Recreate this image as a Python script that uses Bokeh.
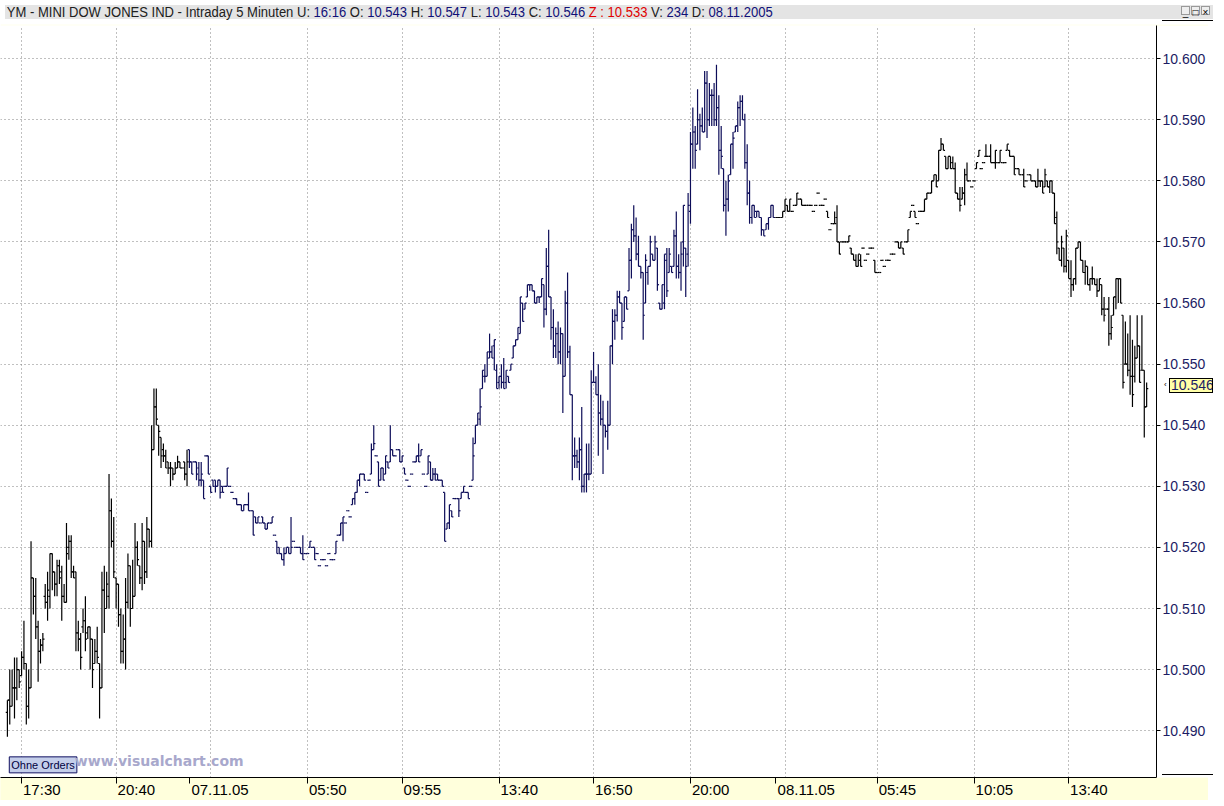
from bokeh.plotting import figure
from bokeh.models import ColumnDataSource, FixedTicker, Label, Div
from bokeh.layouts import column
from bokeh.embed import file_html
from bokeh.resources import INLINE

# ---- data: (open, high, low, close) per 5-minute bar ----
day1_bars = [
(10493,10495,10489,10495),(10495,10500,10491,10494),(10494,10500,10494,10497),(10497,10502,10492,10497),
(10497,10502,10495,10500),(10500,10500,10497,10498),(10499,10503,10499,10502),(10502,10508,10500,10501),
(10501,10501,10491,10494),(10494,10500,10492,10497),(10497,10521,10497,10515),(10515,10515,10509,10512),
(10512,10515,10505,10507),(10507,10508,10498,10503),(10503,10505,10501,10504),(10504,10506,10503,10505),
(10512,10514,10510,10511),(10511,10516,10508,10513),(10512,10519,10510,10519),(10519,10519,10513,10516),
(10516,10516,10512,10514),(10514,10518,10512,10517),(10517,10518,10514,10515),(10516,10517,10508,10512),
(10512,10514,10511,10511),(10511,10524,10511,10519),(10520,10522,10518,10521),(10521,10522,10515,10516),
(10516,10517,10515,10515),(10516,10516,10503,10506),(10506,10508,10503,10505),(10505,10506,10500,10502),
(10507,10510,10506,10508),(10508,10512,10503,10505),(10506,10507,10505,10507),(10507,10507,10500,10505),
(10505,10505,10497,10500),(10501,10505,10501,10503),(10503,10507,10501,10502),(10501,10501,10492,10497),
(10497,10516,10497,10513),(10513,10517,10506,10510),(10510,10516,10510,10514),(10512,10532,10510,10526),
(10526,10528,10520,10521),(10521,10525,10515,10516),(10515,10515,10510,10514),(10514,10514,10507,10509),
(10509,10510,10501,10503),(10503,10509,10501,10505),(10505,10515,10500,10511),(10511,10519,10510,10517),
(10517,10517,10507,10510),(10510,10518,10510,10512),(10512,10524,10512,10520),(10520,10521,10517,10518),
(10517,10517,10514,10515),(10515,10524,10513,10521),(10521,10521,10514,10516),(10516,10525,10515,10523),
(10523,10523,10520,10521),(10521,10540,10520,10536),(10536,10546,10536,10543),(10543,10546,10540,10541),
(10540,10540,10535,10539),(10538,10538,10533,10535),(10536,10537,10534,10535),(10535,10536,10533,10533),
(10534,10534,10532,10533),(10533,10534,10530,10533),(10533,10533,10531,10532),(10532,10534,10532,10533),
(10533,10535,10533,10534),(10534,10534,10533,10533),(10533,10533,10533,10533),(10534,10534,10531,10532),
(10532,10536,10530,10534),
]

day2_bars = [
(10536,10536,10533,10534),(10534,10534,10532,10532),(10534,10534,10534,10534),(10534,10534,10531,10532),
(10533,10534,10530,10531),(10531,10534,10530,10532),(10531,10531,10528,10528),(10535,10535,10535,10535),
(10535,10535,10532,10532),(10530,10530,10529,10529),(10531,10531,10530,10530),(10531,10531,10529,10530),
(10530,10531,10530,10531),(10531,10531,10528,10529),(10530,10530,10529,10529),(10530,10530,10530,10530),
(10530,10533,10530,10533),(10530,10530,10530,10530),(10529,10529,10529,10529),(10528,10528,10528,10528),
(10528,10528,10527,10527),(10527,10527,10527,10527),(10527,10527,10526,10526),(10526,10527,10526,10527),
(10527,10527,10527,10527),(10527,10529,10526,10526),(10526,10526,10526,10526),(10526,10526,10522,10522),
(10525,10525,10524,10524),(10524,10525,10524,10525),(10524,10524,10524,10524),(10525,10525,10524,10524),
(10524,10524,10523,10523),(10523,10524,10523,10524),(10524,10524,10524,10524),(10524,10525,10524,10525),
(10522,10522,10522,10522),(10521,10521,10519,10519),(10520,10520,10519,10519),(10519,10519,10518,10518),
(10518,10520,10517,10519),(10519,10520,10519,10520),(10520,10520,10519,10519),(10519,10525,10519,10520),
(10521,10521,10521,10521),(10520,10520,10520,10520),(10520,10520,10520,10520),(10520,10520,10519,10519),
(10519,10522,10518,10518),(10519,10519,10519,10519),(10519,10519,10519,10519),(10520,10521,10520,10521),
(10520,10520,10520,10520),(10520,10520,10518,10518),(10519,10519,10519,10519),(10517,10517,10517,10517),
(10518,10518,10518,10518),(10518,10518,10518,10518),(10517,10517,10517,10517),(10519,10519,10519,10519),
(10518,10518,10518,10518),(10518,10518,10518,10518),(10519,10521,10519,10521),(10522,10522,10522,10522),
(10522,10524,10522,10524),(10524,10525,10521,10525),(10524,10524,10524,10524),(10526,10526,10526,10526),
(10525,10525,10525,10525),(10527,10528,10527,10528),(10528,10529,10527,10529),(10529,10531,10529,10531),
(10531,10532,10530,10532),(10532,10532,10532,10532),(10532,10532,10531,10531),(10529,10529,10529,10529),
(10531,10531,10531,10531),(10532,10537,10532,10536),(10536,10540,10536,10537),(10535,10535,10535,10535),
(10534,10534,10530,10530),(10531,10533,10531,10533),(10533,10533,10531,10531),(10532,10535,10532,10535),
(10534,10534,10533,10533),(10534,10540,10534,10536),(10536,10536,10535,10535),(10535,10535,10535,10535),
(10536,10536,10536,10536),(10536,10536,10534,10534),(10534,10535,10534,10535),(10533,10533,10532,10532),
(10531,10531,10531,10531),(10530,10530,10530,10530),(10532,10532,10532,10532),(10534,10534,10534,10534),
(10534,10535,10534,10535),(10535,10537,10534,10534),(10535,10536,10535,10536),(10532,10532,10532,10532),
(10530,10530,10530,10530),(10532,10535,10532,10535),(10534,10534,10531,10531),(10531,10533,10531,10532),
(10532,10533,10531,10531),(10532,10532,10531,10531),(10531,10531,10531,10531),(10531,10531,10530,10530),
(10529,10529,10521,10521),(10523,10524,10523,10524),(10524,10527,10523,10527),(10526,10526,10525,10525),
(10528,10528,10528,10528),(10528,10528,10528,10528),(10528,10528,10525,10526),
(10528,10529,10528,10529),(10529,10530,10529,10530),(10529,10529,10529,10529),(10529,10529,10528,10528),
(10530,10530,10530,10530),(10531,10538,10531,10535),(10537,10540,10537,10540),(10540,10542,10540,10542),
(10541,10546,10540,10543),(10546,10549,10546,10549),(10548,10550,10547,10548),(10548,10552,10548,10552),
(10551,10555,10551,10552),(10552,10553,10551,10551),(10553,10554,10549,10554),(10549,10550,10546,10546),
(10547,10548,10546,10548),(10548,10550,10546,10547),(10547,10551,10546,10546),(10547,10549,10546,10549),
(10548,10548,10547,10547),(10549,10550,10549,10550),(10551,10553,10551,10553),(10553,10554,10553,10554),
(10554,10556,10554,10556),(10555,10561,10555,10561),(10560,10560,10557,10557),(10559,10560,10559,10560),
(10561,10563,10561,10563),(10563,10563,10562,10563),(10563,10563,10562,10562),(10562,10562,10560,10560),
(10560,10561,10560,10561),(10561,10561,10560,10561),(10561,10564,10561,10564),(10563,10563,10556,10559),
(10559,10569,10558,10566),(10566,10572,10561,10561),(10561,10561,10554,10556),(10556,10559,10551,10553),
(10553,10556,10551,10555),(10555,10557,10550,10552),(10552,10556,10550,10555),(10555,10555,10542,10548),
(10548,10562,10548,10560),(10560,10565,10551,10552),(10552,10553,10545,10545),(10545,10545,10531,10535),
(10535,10538,10533,10535),(10535,10536,10533,10534),(10534,10538,10531,10536),(10536,10543,10529,10530),
(10530,10532,10529,10532),(10532,10537,10529,10532),(10532,10537,10531,10532),(10532,10549,10532,10547),
(10547,10552,10547,10547),(10547,10548,10545,10545),(10545,10550,10535,10542),(10542,10545,10540,10541),
(10541,10544,10532,10540),(10540,10540,10538,10539),(10539,10544,10536,10540),(10540,10553,10540,10553),
(10553,10559,10550,10557),(10557,10559,10554,10558),(10558,10562,10557,10561),(10561,10562,10560,10560),
(10560,10560,10554,10556),(10557,10561,10557,10561),(10561,10561,10559,10559),(10562,10569,10562,10567),
(10567,10573,10564,10572),(10572,10576,10570,10571),(10571,10574,10567,10568),(10568,10571,10566,10566),
(10566,10566,10564,10565),(10565,10565,10554,10558),(10560,10568,10560,10567),(10565,10566,10563,10566),
(10566,10571,10566,10570),(10568,10568,10567,10567),(10567,10571,10567,10570),(10569,10569,10562,10563),
(10560,10560,10559,10559),(10559,10563,10559,10563),(10560,10568,10559,10568),(10567,10569,10561,10562),
(10565,10569,10565,10568),(10566,10566,10565,10565),(10566,10572,10566,10571),(10571,10575,10564,10566),
(10566,10568,10564,10565),(10565,10570,10562,10568),(10570,10576,10566,10576),(10569,10569,10561,10566),
(10568,10578,10566,10576),(10575,10588,10573,10586),(10586,10592,10582,10588),(10588,10589,10582,10585),
(10586,10595,10586,10590),(10590,10591,10585,10589),(10589,10592,10588,10588),(10588,10598,10588,10596),
(10596,10598,10587,10590),(10590,10596,10589,10594),(10594,10595,10589,10594),(10594,10596,10589,10590),
(10590,10599,10589,10592),(10592,10594,10581,10585),(10585,10589,10582,10584),(10582,10582,10575,10576),
(10576,10580,10571,10577),(10577,10581,10575,10580),(10581,10586,10581,10586),(10586,10588,10582,10587),
(10588,10589,10588,10589),(10589,10593,10588,10592),(10592,10594,10589,10593),(10593,10594,10590,10590),
(10590,10591,10582,10583),(10583,10586,10576,10578),(10578,10580,10573,10574),(10574,10576,10573,10576),
(10576,10576,10574,10574),(10575,10575,10574,10575),(10575,10575,10574,10574),(10574,10574,10571,10572),
(10572,10572,10571,10571),(10572,10573,10572,10573),(10573,10574,10572,10574),(10574,10576,10574,10576),
(10576,10576,10574,10574),
]

day3_bars = [
(10574,10574,10574,10574),(10574,10574,10574,10574),(10574,10574,10574,10574),(10574,10575,10574,10575),
(10575,10577,10575,10577),(10576,10576,10575,10575),(10575,10577,10575,10577),(10575,10575,10575,10575),
(10576,10576,10576,10576),(10576,10578,10576,10578),(10577,10577,10577,10577),(10577,10577,10576,10576),
(10576,10576,10576,10576),(10576,10576,10576,10576),(10576,10576,10576,10576),(10576,10576,10576,10576),
(10575,10575,10575,10575),(10576,10576,10576,10576),(10578,10578,10578,10578),(10576,10576,10576,10576),
(10576,10576,10576,10576),(10577,10577,10577,10577),(10575,10575,10574,10574),(10572,10572,10572,10572),
(10573,10573,10573,10573),(10573,10575,10573,10573),(10574,10576,10570,10570),(10570,10570,10568,10568),
(10570,10570,10570,10570),(10570,10570,10570,10570),(10570,10570,10570,10570),(10570,10571,10570,10571),
(10569,10569,10568,10568),(10568,10568,10567,10567),(10567,10568,10566,10566),(10566,10568,10566,10568),
(10567,10568,10566,10566),(10569,10569,10569,10569),(10567,10567,10567,10567),(10568,10568,10568,10568),
(10569,10569,10569,10569),(10569,10569,10569,10569),(10567,10567,10565,10565),(10565,10565,10565,10565),
(10565,10565,10565,10565),(10567,10567,10567,10567),(10566,10566,10566,10566),(10567,10567,10567,10567),
(10567,10567,10567,10567),(10568,10568,10568,10568),(10568,10568,10568,10568),(10570,10570,10570,10570),
(10570,10570,10569,10569),(10569,10570,10569,10570),(10569,10569,10568,10568),(10570,10570,10570,10570),
(10570,10572,10570,10572),
(10574,10575,10574,10575),(10576,10576,10576,10576),(10575,10575,10574,10574),(10573,10573,10573,10573),
(10575,10575,10575,10575),(10575,10575,10575,10575),(10575,10577,10575,10577),(10577,10578,10577,10578),
(10578,10578,10578,10578),(10578,10580,10578,10580),(10580,10581,10580,10581),(10581,10581,10579,10579),
(10580,10585,10580,10585),(10585,10587,10585,10586),(10586,10586,10585,10585),(10584,10584,10582,10582),
(10582,10584,10582,10584),(10584,10584,10582,10582),(10583,10584,10582,10582),(10582,10583,10578,10578),
(10578,10578,10577,10577),(10577,10579,10575,10576),(10577,10579,10577,10578),(10578,10582,10576,10581),
(10581,10583,10580,10580),(10580,10580,10580,10580),(10579,10579,10579,10579),(10580,10580,10580,10580),
(10582,10583,10582,10583),(10584,10585,10584,10585),(10582,10582,10582,10582),(10583,10583,10583,10583),
(10584,10586,10584,10584),(10584,10584,10584,10584),(10584,10586,10583,10583),(10583,10583,10583,10583),
(10583,10585,10582,10585),(10583,10583,10583,10583),(10583,10585,10583,10585),(10583,10583,10583,10583),
(10583,10583,10583,10583),(10585,10586,10585,10586),(10585,10585,10584,10584),(10584,10584,10584,10584),
(10584,10584,10581,10581),(10582,10582,10582,10582),(10582,10582,10581,10581),(10581,10581,10581,10581),
(10581,10582,10579,10579),(10580,10580,10580,10580),(10581,10581,10581,10581),(10581,10581,10580,10580),
(10580,10580,10580,10580),(10580,10580,10579,10579),(10579,10582,10579,10580),(10580,10580,10579,10580),
(10580,10580,10578,10578),(10579,10582,10579,10581),(10580,10580,10579,10579),(10579,10580,10578,10580),
(10580,10580,10578,10578),(10578,10578,10573,10573),(10574,10575,10568,10570),(10569,10569,10567,10567),
(10567,10571,10566,10570),(10569,10569,10565,10566),(10566,10572,10565,10571),(10567,10567,10564,10564),
(10564,10567,10561,10563),(10563,10564,10562,10564),(10564,10569,10563,10569),(10569,10570,10569,10570),
(10570,10570,10567,10567),(10567,10567,10565,10565),(10565,10567,10563,10566),(10566,10566,10563,10563),
(10563,10564,10562,10564),(10564,10566,10563,10564),(10564,10564,10563,10563),(10563,10564,10561,10562),
(10562,10564,10562,10564),(10563,10563,10558,10559),(10559,10561,10557,10558),(10559,10559,10559,10559),
(10559,10561,10553,10555),(10555,10558,10554,10556),(10558,10561,10558,10561),(10561,10564,10559,10564),
(10564,10564,10560,10564),(10564,10564,10560,10560),(10558,10558,10546,10547),(10550,10557,10550,10550),
(10550,10555,10548,10549),(10549,10558,10545,10548),(10548,10554,10543,10545),(10548,10553,10547,10551),
(10551,10558,10551,10553),(10553,10553,10547,10547),(10549,10558,10549,10549),(10549,10549,10538,10543),
(10543,10547,10543,10546),
]

day_colors = ["#000000", "#0c0c58", "#000000"]

price_ticks = [10490, 10500, 10510, 10520, 10530, 10540, 10550, 10560, 10570, 10580, 10590, 10600]
price_labels = ["10.490", "10.500", "10.510", "10.520", "10.530", "10.540",
                "10.550", "10.560", "10.570", "10.580", "10.590", "10.600"]

time_ticks = [6, 46, 127, 167, 208, 248, 289, 368, 409, 449]
time_labels = ["17:30", "20:40", "05:50", "09:55", "13:40", "16:50", "20:00", "05:45", "10:05", "13:40"]
day_ticks = [77, 325]
day_labels = ["07.11.05", "08.11.05"]
grid_ticks = [6, 46, 86, 127, 167, 208, 248, 289, 329, 368, 409, 449]

last_price = 10546
last_price_label = "10.546"

title_parts = [
    ("YM - MINI DOW JONES IND - Intraday 5 Minuten U: ", "#202020"), ("16:16", "#101078"),
    (" O: ", "#202020"), ("10.543", "#101078"), (" H: ", "#202020"), ("10.547", "#101078"),
    (" L: ", "#202020"), ("10.543", "#101078"), (" C: ", "#202020"), ("10.546", "#101078"),
    (" Z : 10.533", "#e00000"), (" V: ", "#202020"), ("234", "#101078"),
    (" D: ", "#202020"), ("08.11.2005", "#101078"),
]

# ---- build sources ----
bars = day1_bars + day2_bars + day3_bars
colors = ([day_colors[0]] * len(day1_bars) + [day_colors[1]] * len(day2_bars)
          + [day_colors[2]] * len(day3_bars))
xs = list(range(len(bars)))
opens = [b[0] for b in bars]
highs = [b[1] for b in bars]
lows = [b[2] for b in bars]
closes = [b[3] for b in bars]
tick = 0.7
src = ColumnDataSource(dict(
    x=xs, xl=[x - tick for x in xs], xr=[x + tick for x in xs],
    o=opens, h=highs, l=lows, c=closes, color=colors))

n = len(bars)
step = (1163 - 7) / (n - 1)
x_start = -7 / step
x_end = (1173 - 7) / step

FIG_W, RIGHT_W = 1208, 50
p = figure(width=FIG_W, height=776, x_range=(x_start, x_end), y_range=(10482.34, 10605.43),
           output_backend="svg", toolbar_location=None, y_axis_location="right",
           min_border_left=0, min_border_top=1, min_border_right=RIGHT_W, min_border_bottom=21,
           background_fill_color="white", border_fill_color="#FFFFDC")
p.outline_line_color = None

p.segment(x0="x", y0="l", x1="x", y1="h", color="color", line_width=1.2, source=src)
p.segment(x0="xl", y0="o", x1="x", y1="o", color="color", line_width=1.2, source=src)
p.segment(x0="x", y0="c", x1="xr", y1="c", color="color", line_width=1.2, source=src)

# y axis (right)
ya = p.yaxis[0]
ya.ticker = FixedTicker(ticks=price_ticks)
ya.major_label_overrides = dict(zip(price_ticks, price_labels))
ya.minor_tick_line_color = None
ya.major_tick_in = 0
ya.major_tick_out = 4
ya.major_tick_line_color = "black"
ya.axis_line_color = "black"
ya.major_label_text_color = "#1c1c64"
ya.major_label_text_font = "Liberation Sans"
ya.major_label_text_font_size = "14px"
ya.major_label_standoff = 2

# x axis: tick marks as minor ticks at the bar positions, each label placed so it starts at its tick
LABEL_PX = 15.0
char_w = {":": 0.278, ".": 0.278}
px_per_bar = (FIG_W - RIGHT_W) / (x_end - x_start)
all_ticks = time_ticks + day_ticks
all_labels = time_labels + day_labels
label_pos = []
for t, s in zip(all_ticks, all_labels):
    w = sum(char_w.get(ch, 0.556) for ch in s) * LABEL_PX
    label_pos.append(round(t + (w / 2 + 1.5) / px_per_bar, 3))

xa = p.xaxis[0]
xa.ticker = FixedTicker(ticks=label_pos, minor_ticks=all_ticks)
xa.major_label_overrides = dict(zip(label_pos, all_labels))
xa.major_tick_line_color = None
xa.major_tick_in = 0
xa.major_tick_out = 5
xa.minor_tick_line_color = "black"
xa.minor_tick_in = 0
xa.minor_tick_out = 6
xa.axis_line_color = "black"
xa.major_label_text_color = "black"
xa.major_label_text_font = "Liberation Sans"
xa.major_label_text_font_size = "%dpx" % LABEL_PX
xa.major_label_standoff = -3

try:
    ya.background_fill_color = "white"
    xa.background_fill_color = "#FFFFDC"
except Exception:
    pass

p.ygrid.ticker = FixedTicker(ticks=price_ticks)
p.xgrid.ticker = FixedTicker(ticks=grid_ticks)
for g in (p.xgrid[0], p.ygrid[0]):
    g.grid_line_color = "#808080"
    g.grid_line_dash = "1 3"
    g.grid_line_width = 1

# annotations
ohne = Label(x=0.8, y=10483.1, text="Ohne Orders", text_font="Liberation Sans",
             text_font_size="11px", text_color="#000040",
             background_fill_color="#C4CEEA", border_line_color="#101060")
try:
    ohne.padding = 2
except Exception:
    pass
p.add_layout(ohne)
p.add_layout(Label(x=28.5, y=10483.7, text="www.visualchart.com", text_font="DejaVu Sans",
                   text_font_size="14px", text_font_style="bold", text_color="#A8A8CC"))

# title bar with last-price tag overlay on the price axis
title_html = ('<div style="display:inline-block;transform:scaleX(0.93);transform-origin:0 0;'
              'white-space:nowrap;padding-left:2px">'
              + "".join('<span style="color:%s">%s</span>' % (c, t.replace(" ", "&nbsp;"))
                        for t, c in title_parts)
              + '</div>')
title_html += ('<div style="position:absolute;right:3px;top:1px;font-family:\'Liberation Sans\';'
               'font-size:10px;line-height:11px;color:#000">'
               '<span style="display:inline-block;width:9px;height:9px;border:1px solid #999;'
               'text-align:center;margin-left:1px;background:#eee">_</span>'
               '<span style="display:inline-block;width:9px;height:9px;border:1px solid #999;'
               'text-align:center;margin-left:1px;background:#eee">&#9633;</span>'
               '<span style="display:inline-block;width:9px;height:9px;border:1px solid #999;'
               'text-align:center;margin-left:1px;background:#eee">&#215;</span></div>')
title_html += ('<div style="position:absolute;left:1157px;top:15px;width:51px;height:0;'
               'border-top:1px solid #000"></div>')
title_html += ('<div style="position:absolute;left:1157px;top:769px;width:51px;height:0;'
               'border-top:1px solid #000"></div>')
title_html += ('<div style="position:absolute;left:1159px;top:374px;font-family:\'Liberation Sans\';'
               'font-size:8px;line-height:12px;color:#000">&#8249;</div>')
title_html += ('<div style="position:absolute;left:1164px;top:373px;width:44px;height:15px;'
               'box-sizing:border-box;border:1px solid #000;background:#FFFFA8;'
               'font-family:\'Liberation Sans\';font-size:14px;line-height:13px;color:#1c1c64;'
               'padding-left:1px;overflow:hidden;white-space:nowrap">%s</div>' % last_price_label)

title = Div(text=title_html, width=1208, height=14,
            styles={"background-color": "#E4E4E4", "font-family": "Liberation Sans",
                    "font-size": "14px", "line-height": "14px", "white-space": "nowrap",
                    "position": "relative", "z-index": "10", "overflow": "visible"})

layout = column(title, p, spacing=0)
open("out.html", "w").write(file_html(layout, INLINE))
